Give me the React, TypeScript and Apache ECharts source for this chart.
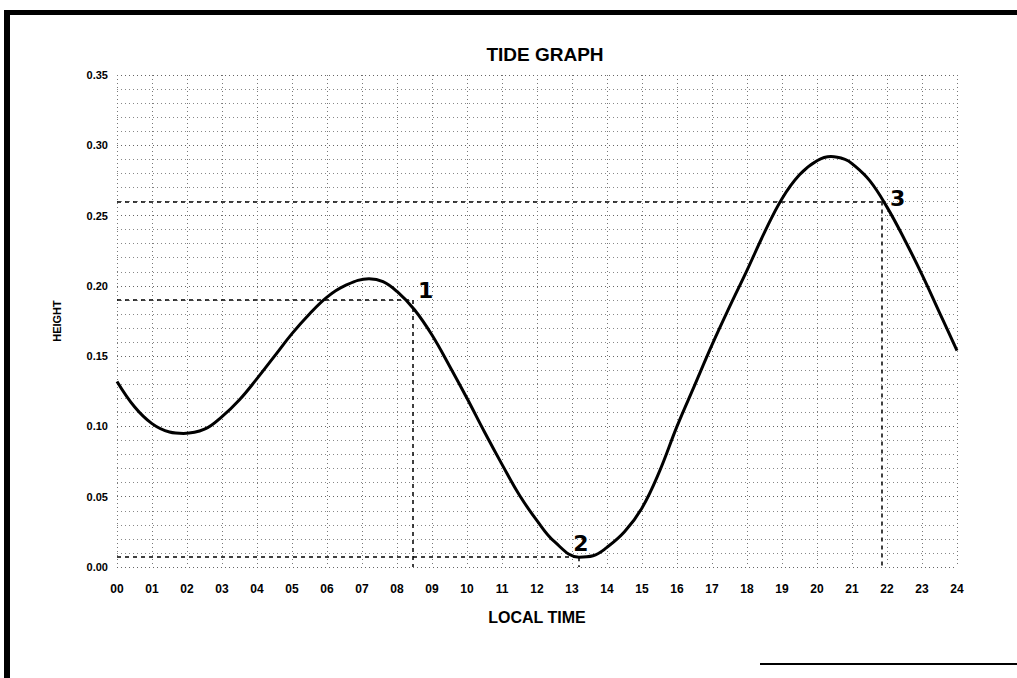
import React, { useEffect, useRef } from "react";
import * as echarts from "echarts";

const hours = [0, 0.5, 1, 1.5, 1.9, 2.5, 3, 3.5, 4, 4.5, 5, 5.5, 6, 6.5, 7.2, 7.6, 8, 8.5, 9, 9.5, 10, 10.5, 11, 11.5, 12, 12.5, 13.2, 13.6, 14, 14.5, 15, 15.5, 16, 16.5, 17, 17.5, 18, 18.5, 19, 19.5, 20, 20.4, 20.8, 21, 21.5, 22, 22.5, 23, 23.5, 24];
const heights = [0.132, 0.114, 0.102, 0.096, 0.095, 0.098, 0.107, 0.119, 0.134, 0.15, 0.166, 0.18, 0.192, 0.2, 0.205, 0.203, 0.196, 0.183, 0.165, 0.143, 0.12, 0.096, 0.073, 0.051, 0.033, 0.018, 0.007, 0.008, 0.014, 0.025, 0.042, 0.068, 0.1, 0.129, 0.158, 0.185, 0.211, 0.238, 0.262, 0.279, 0.289, 0.292, 0.29, 0.287, 0.275, 0.256, 0.233, 0.208, 0.181, 0.154];

const eventLabels = ["1", "2", "3"];
const eventTimes = [8.45, 13.2, 21.85];
const eventHeights = [0.19, 0.007, 0.26];
const labelOffsets: [number, number][] = [[13, -9], [2, -14], [16, -3]];

const FONT = "Liberation Sans, Arial, sans-serif";

export default function App() {
  const ref = useRef<HTMLDivElement>(null);
  useEffect(() => {
    if (!ref.current) return;
    const chart = echarts.init(ref.current, null, { renderer: "svg" });
    const markLines: any[] = [];
    eventTimes.forEach((t, i) => {
      const h = eventHeights[i];
      markLines.push([{ coord: [0, h] }, { coord: [t, h] }]);
      markLines.push([{ coord: [t, h] }, { coord: [t, 0] }]);
    });
    const markPoints = eventTimes.map((t, i) => ({
      coord: [t, eventHeights[i]],
      value: eventLabels[i],
      symbol: "circle",
      symbolSize: 1,
      itemStyle: { color: "rgba(0,0,0,0)" },
      label: {
        show: true,
        formatter: eventLabels[i],
        position: "inside",
        offset: labelOffsets[i],
        fontSize: 22,
        fontWeight: "bold",
        fontFamily: "DejaVu Sans, sans-serif",
        color: "#000",
      },
    }));
    chart.setOption({
      animation: false,
      backgroundColor: "#fff",
      title: {
        text: "TIDE GRAPH",
        left: 540,
        top: 40,
        textAlign: "center",
        textStyle: { fontFamily: FONT, fontSize: 19, fontWeight: "bold", color: "#000" },
      },
      grid: { left: 117, right: 60, top: 75, bottom: 111 },
      xAxis: {
        type: "value",
        min: 0,
        max: 24,
        interval: 1,
        name: "LOCAL TIME",
        nameLocation: "middle",
        nameGap: 42,
        nameTextStyle: { fontFamily: FONT, fontSize: 16, fontWeight: "bold", color: "#000" },
        axisLine: { show: false },
        axisTick: { show: false },
        axisLabel: {
          margin: 16,
          fontFamily: FONT,
          fontSize: 12,
          fontWeight: "bold",
          color: "#000",
          formatter: (v: number) => (v < 10 ? "0" + v : "" + v),
        },
        splitLine: { show: true, lineStyle: { color: "#777", type: [1, 3], width: 1 } },
      },
      yAxis: {
        type: "value",
        min: 0,
        max: 0.35,
        interval: 0.05,
        name: "HEIGHT",
        nameLocation: "middle",
        nameGap: 55,
        nameTextStyle: { fontFamily: FONT, fontSize: 11, fontWeight: "bold", color: "#000" },
        axisLine: { show: false },
        axisTick: { show: false },
        axisLabel: {
          margin: 9,
          fontFamily: FONT,
          fontSize: 11,
          fontWeight: "bold",
          color: "#000",
          formatter: (v: number) => v.toFixed(2),
        },
        splitLine: { show: true, lineStyle: { color: "#666", type: [1, 3], width: 1 } },
        minorTick: { show: false, splitNumber: 5 },
        minorSplitLine: { show: true, lineStyle: { color: "#888", type: [1, 3], width: 1 } },
      },
      series: [
        {
          type: "line",
          data: hours.map((h, i) => [h, heights[i]]),
          smooth: 0.4,
          showSymbol: false,
          lineStyle: { color: "#000", width: 3 },
          markLine: {
            silent: true,
            symbol: "none",
            label: { show: false },
            lineStyle: { color: "#000", type: [4, 4], width: 1.5 },
            data: markLines,
          },
          markPoint: {
            silent: true,
            data: markPoints,
          },
        },
      ],
      graphic: [
        { type: "rect", shape: { x: 4, y: 10, width: 1013, height: 5 }, style: { fill: "#000" } },
        { type: "rect", shape: { x: 4, y: 10, width: 6, height: 668 }, style: { fill: "#000" } },
        { type: "rect", shape: { x: 760, y: 663, width: 257, height: 2 }, style: { fill: "#000" } },
      ],
    });
    return () => chart.dispose();
  }, []);
  return (
    <div
      ref={ref}
      style={{ position: "absolute", left: 0, top: 0, width: 1017, height: 678 }}
    />
  );
}
